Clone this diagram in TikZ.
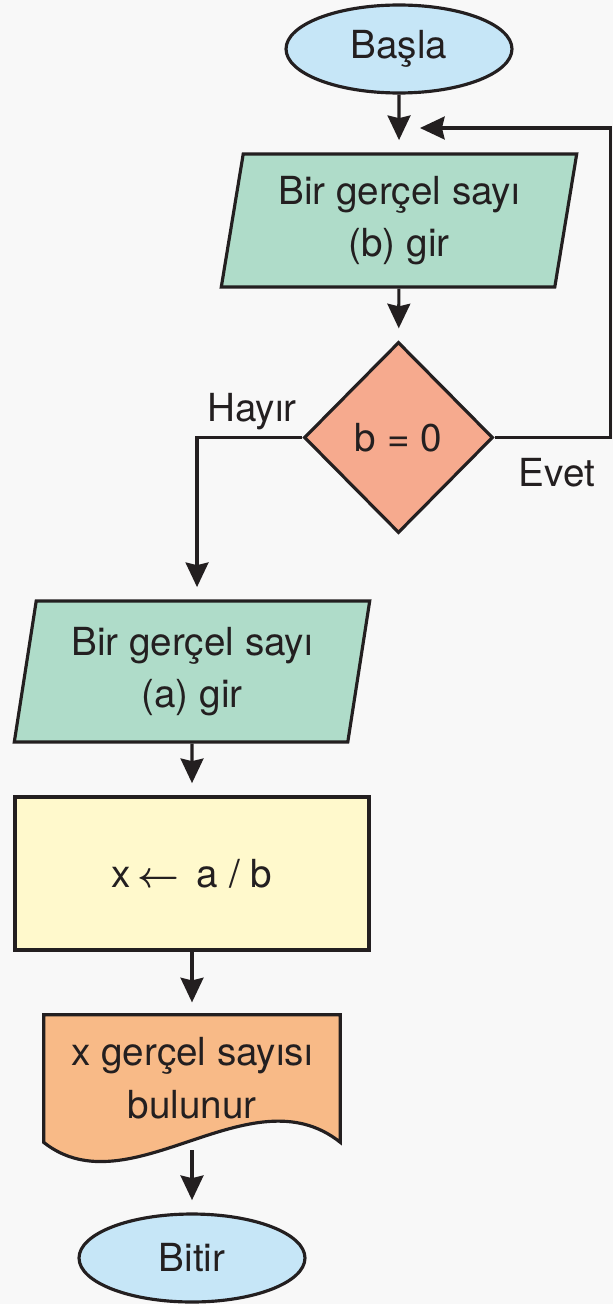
\documentclass[tikz,border=0pt]{standalone}
\usepackage{fontspec}
\setmainfont{TeX Gyre Heros}
\usetikzlibrary{arrows.meta,shapes.geometric}

\definecolor{ink}{HTML}{231F20}
\definecolor{bgc}{HTML}{F8F8F8}
\definecolor{termblue}{HTML}{C6E6F7}
\definecolor{ingreen}{HTML}{AFDCC9}
\definecolor{decsalmon}{HTML}{F6AA8E}
\definecolor{procyellow}{HTML}{FFF9CC}
\definecolor{outorange}{HTML}{F8BA87}

\pgfdeclarelayer{bg}
\pgfsetlayers{bg,main}

\begin{document}
\begin{tikzpicture}[
  x=0.02cm, y=-0.02cm,
  >={Stealth[length=14pt,width=13pt,inset=1.5pt]},
  every node/.style={font=\fontsize{22}{30}\selectfont, text=ink},
  ln/.style={draw=ink, line width=1.8pt},
  conn/.style={->, ln, shorten >=7pt},
  term/.style={ellipse, ln, fill=termblue, minimum width=4.52cm, minimum height=1.76cm},
  inbox/.style={trapezium, trapezium left angle=80, trapezium right angle=100, trapezium stretches,
    ln, fill=ingreen, align=center, minimum width=7.12cm, minimum height=2.66cm},
  dec/.style={diamond, aspect=1, ln, fill=decsalmon, inner sep=0pt, minimum width=3.78cm, minimum height=3.82cm},
  proc/.style={rectangle, ln, fill=procyellow, minimum width=7.08cm, minimum height=3.06cm},
  outdoc/.style={rectangle, align=center, minimum width=5.92cm, minimum height=2.54cm}
]
\begin{pgfonlayer}{bg}
\fill[bgc] (0,0) rectangle (613,1304);
\end{pgfonlayer}
\useasboundingbox (0,0) rectangle (613,1304);

\node[term] (start) at (399,49) {Başla};
\node[inbox] (inb) at (399,220.5) {Bir gerçel sayı\\(b) gir};
\node[dec] (test) at (398.5,437.5) {b = 0};
\node[inbox, minimum height=2.82cm] (ina) at (192,671.5) {Bir gerçel sayı\\(a) gir};
\node[proc] (calc) at (192,873.5) {x\,{\boldmath$\leftarrow$}\, a / b};
\node[outdoc] (out) at (192,1078.5) {x gerçel sayısı\\bulunur};
\node[term] (stop) at (192,1258) {Bitir};
\coordinate (back) at (420,128);

\node (no) at (252,412) {Hayır};
\node (yes) at (557,473) {Evet};

% document shape behind its text
\begin{pgfonlayer}{bg}
\draw[ln, fill=outorange] (out.north west) -- (out.north east) -- (out.south east)
  .. controls +(-90,-72) and +(86,68) .. (out.south west) -- cycle;
\end{pgfonlayer}

\draw[conn] (start) -- (inb);
\draw[conn] (inb) -- (test);
\draw[->, ln] (test.east) -- ++(116,0) |- (back);
\draw[conn] (test.west) -| ([xshift=0.1cm]ina.north);
\draw[conn] (ina) -- (calc);
\draw[conn] (calc) -- (out);
\draw[conn] ([yshift=-0.16cm]out.south) -- (stop);
\end{tikzpicture}
\end{document}
